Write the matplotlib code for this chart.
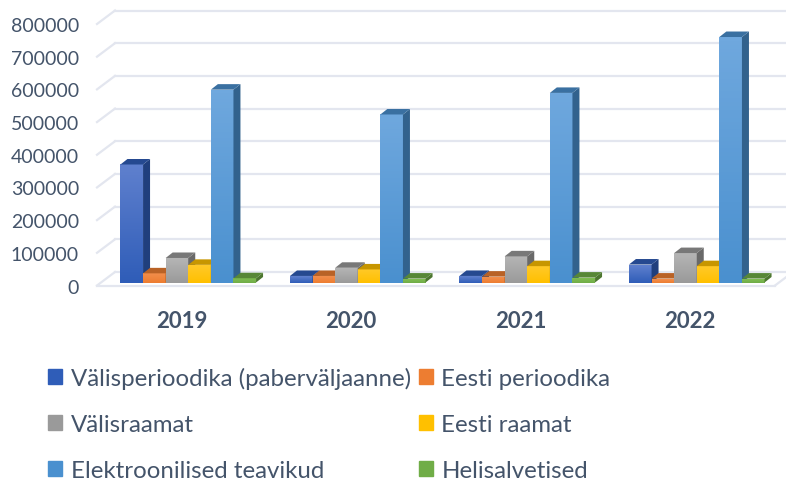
import numpy as np
import matplotlib.pyplot as plt
from matplotlib.colors import to_rgb
from matplotlib.patches import Polygon, Patch

plt.rcParams['font.family'] = ['Lato', 'DejaVu Sans']

# andmed
years = ['2019', '2020', '2021', '2022']
yticks = [0, 100000, 200000, 300000, 400000, 500000, 600000, 700000, 800000]
names = ['Välisperioodika (paberväljaanne)', 'Eesti perioodika', 'Välisraamat',
         'Eesti raamat', 'Elektroonilised teavikud', 'Helisalvetised']
valisperioodika = [361000, 20000, 20000, 55000]
eesti_perioodika = [28000, 20000, 18000, 12000]
valisraamat = [75000, 45000, 80000, 90000]
eesti_raamat = [54000, 40000, 50000, 50000]
elektroonilised = [590000, 514000, 580000, 751000]
helisalvetised = [13000, 12000, 15000, 12000]
series = [valisperioodika, eesti_perioodika, valisraamat,
          eesti_raamat, elektroonilised, helisalvetised]
colors = ['#2F5DB8', '#ED7D31', '#9A9A9A', '#FFC000', '#4A90CF', '#70AD47']
top_colors = ['#5F80CE', '#F28E4C', '#B5B5B5', '#FFC929', '#6FA8DE', '#7FBC52']
text_color = '#44546A'
grid_color = '#E3E6EF'

W, H = 786, 481
fig = plt.figure(figsize=(W / 100, H / 100), dpi=100)
left, right, top, bottom = 97, 775, 25, 286.5
ax = fig.add_axes([left / W, 1 - bottom / H, (right - left) / W, (bottom - top) / H])
ax.set_xlim(-0.5, 3.5)
ax.set_ylim(0, 800000)
ax.patch.set_visible(False)
for s in ax.spines.values():
    s.set_visible(False)

# pikslid -> andmeühikud
px_x = 4 / (right - left)
px_y = 800000 / (bottom - top)

# tagasein ja põrand
back_dx, back_dy = 18 * px_x, 13.5 * px_y
for v in yticks:
    ax.plot([-0.5, -0.5 + back_dx], [v, v + back_dy], color=grid_color, lw=1.6, clip_on=False, zorder=1)
    ax.plot([-0.5 + back_dx, 3.5 + back_dx], [v + back_dy, v + back_dy], color=grid_color, lw=1.6, clip_on=False, zorder=1)
ax.plot([-0.5, 3.5], [0, 0], color=grid_color, lw=1.6, clip_on=False, zorder=1)
ax.plot([3.5, 3.5 + back_dx], [0, back_dy], color=grid_color, lw=1.6, clip_on=False, zorder=1)


def shade(c, k):
    return tuple(x * k for x in to_rgb(c))


# tulbad
bar_w = 22.6 * px_x
off_x, off_y = 6.5 * px_x, 3 * px_y   # tulba esikülg on põrandal veidi tagapool
dep_x, dep_y = 7 * px_x, 5.5 * px_y
z = 3
for g in range(len(years)):
    for i, vals in enumerate(series):
        v = vals[g]
        x0 = g + off_x + (i - 3) * bar_w
        x1 = x0 + bar_w
        y0 = off_y
        y1 = v + off_y
        ax.bar(x0, v, width=bar_w, bottom=y0, align='edge', color=colors[i], zorder=z, clip_on=False)
        grad = np.linspace(to_rgb(top_colors[i]), to_rgb(colors[i]), 64).reshape(64, 1, 3)
        ax.imshow(grad, extent=(x0, x1, y0, y1), aspect='auto', zorder=z + 0.1, clip_on=False)
        ax.add_patch(Polygon([(x1, y0), (x1 + dep_x, y0 + dep_y), (x1 + dep_x, y1 + dep_y), (x1, y1)],
                             color=shade(colors[i], 0.68), lw=0, zorder=z + 0.2, clip_on=False))
        ax.add_patch(Polygon([(x0, y1), (x1, y1), (x1 + dep_x, y1 + dep_y), (x0 + dep_x, y1 + dep_y)],
                             color=shade(colors[i], 0.78), lw=0, zorder=z + 0.2, clip_on=False))
        z += 1
ax.set_xlim(-0.5, 3.5)
ax.set_ylim(0, 800000)

ax.set_yticks(yticks)
ax.set_yticklabels([str(v) for v in yticks], fontsize=14, color=text_color)
ax.set_xticks(range(len(years)))
ax.set_xticklabels(years, fontsize=16, fontweight='bold', color=text_color)
ax.tick_params(axis='y', length=0, pad=13)
ax.tick_params(axis='x', length=0, pad=18)

# legend: read paarikaupa, matplotlib täidab tulpade kaupa
order = [0, 2, 4, 1, 3, 5]
handles = [Patch(color=colors[i]) for i in order]
labels = [names[i] for i in order]
fig.legend(handles, labels, ncol=2, frameon=False, loc='upper left',
           bbox_to_anchor=(48 / W, 1 - 368 / H), fontsize=17.3, labelcolor=text_color,
           handlelength=0.6, handleheight=0.6, handletextpad=0.34, columnspacing=0.34,
           labelspacing=1.04, borderpad=0, borderaxespad=0)

fig.savefig('out.png', dpi=100)
